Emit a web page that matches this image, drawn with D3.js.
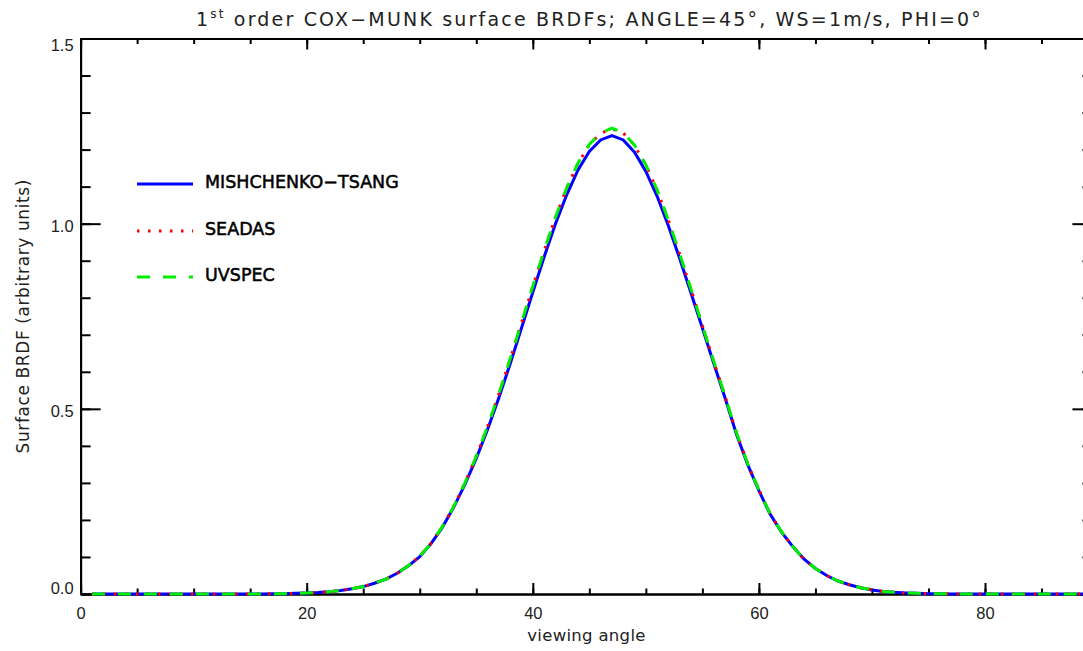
<!DOCTYPE html>
<html>
  <head>
    <meta charset="utf-8">
    <script src="https://d3js.org/d3.v7.min.js"></script>
    <style>
      body { margin: 0; background: #fff; }
      svg { display: block; font-family: "DejaVu Sans", "Liberation Sans", sans-serif; }
      .axis path, .axis line { stroke: #000; stroke-width: 2; }
      .axis text { font-size: 16.5px; fill: #222; }
    </style>
  </head>
  <body>
    <script type="text/javascript">

      // viewing angle samples, 1..89 deg
      var angles = [1,2,3,4,5,6,7,8,9,10,11,12,13,14,15,16,17,18,19,20,21,22,23,24,25,26,27,28,29,30,
        31,32,33,34,35,36,37,38,39,40,41,42,43,44,45,46,47,48,49,50,51,52,53,54,55,56,57,58,59,60,
        61,62,63,64,65,66,67,68,69,70,71,72,73,74,75,76,77,78,79,80,81,82,83,84,85,86,87,88,89];

      var mishchenko = [0,0,0,0,0,0,0,0,0,0,0,0,0,0,0,0,
        0.0006,0.001,0.0017,0.0027,0.0041,0.0064,0.0096,0.014,0.020,0.029,0.040,0.056,0.076,0.101,
        0.136,0.180,0.234,0.296,0.366,0.444,0.530,0.622,0.718,0.815,0.910,0.999,1.078,1.145,1.195,
        1.226,1.238,1.226,1.193,1.141,1.074,0.994,0.905,0.812,0.718,0.623,0.530,0.433,0.350,0.279,
        0.215,0.167,0.128,0.094,0.069,0.050,0.035,0.025,0.017,0.011,0.007,0.0045,0.0028,0.0017,0.001,
        0.0006,0.0003,
        0,0,0,0,0,0,0,0,0,0,0,0];

      var seadas = [0,0,0,0,0,0,0,0,0,0,0,0,0,0,0,0,
        0.0006,0.001,0.0017,0.0027,0.0041,0.0064,0.0096,0.014,0.020,0.029,0.040,0.056,0.077,0.102,
        0.137,0.182,0.236,0.300,0.372,0.452,0.540,0.634,0.732,0.830,0.926,1.016,1.096,1.163,1.213,
        1.244,1.256,1.245,1.211,1.158,1.090,1.008,0.917,0.822,0.725,0.629,0.535,0.437,0.353,0.281,
        0.216,0.168,0.128,0.094,0.069,0.050,0.035,0.025,0.017,0.011,0.007,0.0045,0.0028,0.0017,0.001,
        0.0006,0.0003,
        0,0,0,0,0,0,0,0,0,0,0,0];

      var uvspec = [0,0,0,0,0,0,0,0,0,0,0,0,0,0,0,0,
        0.0006,0.001,0.0017,0.0027,0.0041,0.0064,0.0096,0.014,0.020,0.029,0.040,0.056,0.077,0.102,
        0.137,0.182,0.236,0.300,0.372,0.452,0.541,0.635,0.733,0.831,0.927,1.017,1.097,1.164,1.214,
        1.245,1.258,1.246,1.212,1.159,1.091,1.009,0.918,0.823,0.725,0.629,0.535,0.437,0.353,0.281,
        0.216,0.168,0.128,0.094,0.069,0.050,0.035,0.025,0.017,0.011,0.007,0.0045,0.0028,0.0017,0.001,
        0.0006,0.0003,
        0,0,0,0,0,0,0,0,0,0,0,0];

      var seriesNames = ["MISHCHENKO\u2212TSANG", "SEADAS", "UVSPEC"];
      var xTicks = [0, 20, 40, 60, 80];
      var xTickLabels = ["0", "20", "40", "60", "80"];
      var yTicks = [0, 0.5, 1.0, 1.5];
      var yTickLabels = ["0.0", "0.5", "1.0", "1.5"];

      var width = 1083, height = 651;
      var margin = {top: 38.5, left: 80.6};
      var plotW = 1011.8, plotH = 555.5;

      var x = d3.scaleLinear().domain([0, 89.5]).range([margin.left, margin.left + plotW]);
      var y = d3.scaleLinear().domain([0, 1.5]).range([margin.top + plotH, margin.top]);

      var svg = d3.select("body").append("svg")
          .attr("width", width)
          .attr("height", height);

      var xMinor = d3.range(0, 90, 5);
      var yMinor = d3.range(0, 1.51, 0.1);

      // minor ticks first, then major with labels
      svg.append("g").attr("class", "axis")
          .attr("transform", "translate(0," + y(0) + ")")
          .call(d3.axisBottom(x).tickValues(xMinor).tickSize(-5.5).tickSizeOuter(0).tickFormat(""));
      svg.append("g").attr("class", "axis")
          .attr("transform", "translate(0," + y(0) + ")")
          .call(d3.axisBottom(x).tickValues(xTicks).tickSize(-11).tickSizeOuter(0).tickPadding(13)
            .tickFormat(function(d, i) { return xTickLabels[i]; }));

      svg.append("g").attr("class", "axis")
          .attr("transform", "translate(0," + y(1.5) + ")")
          .call(d3.axisTop(x).tickValues(xMinor).tickSize(-5.5).tickSizeOuter(0).tickFormat(""));
      svg.append("g").attr("class", "axis")
          .attr("transform", "translate(0," + y(1.5) + ")")
          .call(d3.axisTop(x).tickValues(xTicks).tickSize(-11).tickSizeOuter(0).tickFormat(""));

      svg.append("g").attr("class", "axis")
          .attr("transform", "translate(" + x(0) + ",0)")
          .call(d3.axisLeft(y).tickValues(yMinor).tickSize(-10).tickSizeOuter(0).tickFormat(""));
      var yAx = svg.append("g").attr("class", "axis")
          .attr("transform", "translate(" + x(0) + ",0)")
          .call(d3.axisLeft(y).tickValues(yTicks).tickSize(-20).tickSizeOuter(0).tickPadding(7)
            .tickFormat(function(d, i) { return yTickLabels[i]; }));
      yAx.selectAll(".tick text").attr("dy", function(d) {
        return d === 0 ? "-0.05em" : (d === 1.5 ? "0.72em" : "0.45em");
      });

      svg.append("g").attr("class", "axis")
          .attr("transform", "translate(" + x(89.5) + ",0)")
          .call(d3.axisRight(y).tickValues(yMinor).tickSize(-10).tickSizeOuter(0).tickFormat(""));
      svg.append("g").attr("class", "axis")
          .attr("transform", "translate(" + x(89.5) + ",0)")
          .call(d3.axisRight(y).tickValues(yTicks).tickSize(-20).tickSizeOuter(0).tickFormat(""));

      var line = d3.line()
          .x(function(d, i) { return x(angles[i]); })
          .y(function(d) { return y(d); });

      var styles = [
        {data: mishchenko, color: "#0000ff", dash: null, w: 3},
        {data: seadas, color: "#ff0000", dash: "2.5,8.5", w: 3},
        {data: uvspec, color: "#00ee00", dash: "13,13", w: 3}
      ];

      styles.forEach(function(s) {
        svg.append("path")
            .datum(s.data)
            .attr("fill", "none")
            .attr("stroke", s.color)
            .attr("stroke-width", s.w)
            .attr("stroke-dasharray", s.dash)
            .attr("d", line);
      });

      // legend
      var legY = [184, 231, 277];
      styles.forEach(function(s, i) {
        svg.append("line")
            .attr("x1", 137).attr("x2", 193)
            .attr("y1", legY[i]).attr("y2", legY[i])
            .attr("stroke", s.color)
            .attr("stroke-width", s.w)
            .attr("stroke-dasharray", s.dash);
        svg.append("text")
            .attr("x", 205).attr("y", legY[i] + 3.5)
            .style("font-size", "17.5px")
            .attr("fill", "#000")
            .attr("stroke", "#000")
            .attr("stroke-width", 0.5)
            .text(seriesNames[i]);
      });

      // title
      var title = svg.append("text")
          .attr("x", 196).attr("y", 26)
          .style("font-size", "19px")
          .attr("fill", "#222");
      title.append("tspan").text("1");
      title.append("tspan").attr("dy", -8).style("font-size", "12px").text("st");
      title.append("tspan").attr("dy", 8)
          .text(" order COX\u2212MUNK surface BRDFs; ANGLE=45\u00b0, WS=1m/s, PHI=0\u00b0");
      var tl = title.node().getComputedTextLength();
      var nChars = title.text().length;
      title.style("letter-spacing", ((787 - tl) / nChars) + "px");

      svg.append("text")
          .attr("text-anchor", "middle")
          .attr("x", x(89.5 / 2)).attr("y", 641)
          .style("font-size", "16.5px")
          .style("letter-spacing", "0.3px")
          .attr("fill", "#222")
          .text("viewing angle");

      svg.append("text")
          .attr("text-anchor", "middle")
          .attr("transform", "translate(29," + y(0.75) + ") rotate(-90)")
          .style("font-size", "17px")
          .style("letter-spacing", "0.6px")
          .attr("fill", "#222")
          .text("Surface BRDF (arbitrary units)");

    </script>
  </body>
</html>
